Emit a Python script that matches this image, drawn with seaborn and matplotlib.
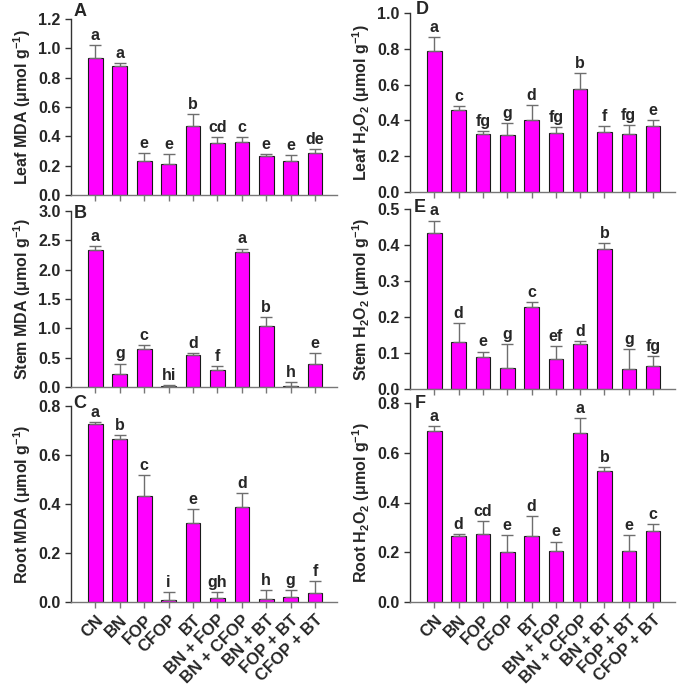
import numpy as np
import pandas as pd
import matplotlib
matplotlib.use("Agg")
import matplotlib.pyplot as plt
import seaborn as sns

treatments = ["CN", "BN", "FOP", "CFOP", "BT", "BN + FOP", "BN + CFOP",
              "BN + BT", "FOP + BT", "CFOP + BT"]

leaf_mda = [0.932, 0.877, 0.232, 0.213, 0.468, 0.357, 0.363, 0.264, 0.230, 0.284]
leaf_mda_err = [0.088, 0.023, 0.056, 0.069, 0.086, 0.038, 0.030, 0.016, 0.043, 0.027]
leaf_mda_let = ["a", "a", "e", "e", "b", "cd", "c", "e", "e", "de"]

stem_mda = [2.33, 0.22, 0.64, 0.02, 0.545, 0.284, 2.295, 1.04, 0.02, 0.40]
stem_mda_err = [0.08, 0.18, 0.07, 0.01, 0.04, 0.066, 0.065, 0.15, 0.07, 0.175]
stem_mda_let = ["a", "g", "c", "hi", "d", "f", "a", "b", "h", "e"]

root_mda = [0.727, 0.664, 0.434, 0.008, 0.324, 0.016, 0.389, 0.014, 0.019, 0.037]
root_mda_err = [0.009, 0.018, 0.083, 0.034, 0.057, 0.026, 0.056, 0.036, 0.029, 0.049]
root_mda_let = ["a", "b", "c", "i", "e", "gh", "d", "h", "g", "f"]

leaf_h2o2 = [0.785, 0.456, 0.326, 0.318, 0.400, 0.327, 0.575, 0.335, 0.324, 0.370]
leaf_h2o2_err = [0.081, 0.022, 0.013, 0.067, 0.084, 0.036, 0.090, 0.032, 0.048, 0.030]
leaf_h2o2_let = ["a", "c", "fg", "g", "d", "fg", "b", "f", "fg", "e"]

stem_h2o2 = [0.434, 0.131, 0.089, 0.059, 0.227, 0.082, 0.126, 0.389, 0.055, 0.065]
stem_h2o2_err = [0.034, 0.053, 0.015, 0.065, 0.014, 0.038, 0.008, 0.016, 0.055, 0.027]
stem_h2o2_let = ["a", "d", "e", "g", "c", "ef", "d", "b", "g", "fg"]

root_h2o2 = [0.687, 0.266, 0.274, 0.203, 0.267, 0.207, 0.678, 0.526, 0.207, 0.287]
root_h2o2_err = [0.019, 0.009, 0.053, 0.067, 0.078, 0.036, 0.063, 0.015, 0.063, 0.028]
root_h2o2_let = ["a", "d", "cd", "e", "d", "e", "a", "b", "e", "c"]

sns.set_style("ticks")
plt.rcParams["font.family"] = ["Liberation Sans", "DejaVu Sans"]
plt.rcParams["font.weight"] = "bold"
plt.rcParams["mathtext.fontset"] = "custom"
plt.rcParams["mathtext.rm"] = "Liberation Sans:bold"
plt.rcParams["mathtext.it"] = "Liberation Sans:bold"
plt.rcParams["mathtext.bf"] = "Liberation Sans:bold"
plt.rcParams["mathtext.default"] = "rm"

W, H = 677, 685
fig = plt.figure(figsize=(W / 100, H / 100), dpi=100)

def rect(x0, x1, ytop, ybot):
    return [x0 / W, 1 - ybot / H, (x1 - x0) / W, (ybot - ytop) / H]

panels = [
    ("A", leaf_mda, leaf_mda_err, leaf_mda_let, "Leaf MDA (μmol g$^{-1}$)", 1.2, 0.2,
     rect(71, 337, 19, 195), False, (80, 11)),
    ("B", stem_mda, stem_mda_err, stem_mda_let, "Stem MDA (μmol g$^{-1}$)", 3.0, 0.5,
     rect(71, 337, 211, 387), False, (80, 213)),
    ("C", root_mda, root_mda_err, root_mda_let, "Root MDA (μmol g$^{-1}$)", 0.8, 0.2,
     rect(71, 337, 406, 602), True, (80, 404)),
    ("D", leaf_h2o2, leaf_h2o2_err, leaf_h2o2_let, "Leaf H$_2$O$_2$ (μmol g$^{-1}$)", 1.0, 0.2,
     rect(410, 675, 13, 192), False, (422, 10)),
    ("E", stem_h2o2, stem_h2o2_err, stem_h2o2_let, "Stem H$_2$O$_2$ (μmol g$^{-1}$)", 0.5, 0.1,
     rect(410, 675, 209, 389), False, (420, 208)),
    ("F", root_h2o2, root_h2o2_err, root_h2o2_let, "Root H$_2$O$_2$ (μmol g$^{-1}$)", 0.8, 0.2,
     rect(410, 675, 403, 602), True, (420, 403)),
]

for name, vals, errs, lets, ylab, ymax, step, r, bottom, lpos in panels:
    ax = fig.add_axes(r)
    df = pd.DataFrame({"treatment": treatments, "value": vals})
    sns.barplot(data=df, x="treatment", y="value", order=treatments, color="#FF00FF",
                saturation=1, width=0.6, edgecolor="#1a1a1a", linewidth=0.8, ax=ax)
    xs = np.arange(len(treatments))
    ax.errorbar(xs, vals, yerr=[np.zeros(len(vals)), errs], fmt="none",
                ecolor="#6e6e6e", elinewidth=1.0, capsize=4, capthick=1.0, zorder=1)
    for x, v, e, t in zip(xs, vals, errs, lets):
        ax.annotate(t, (x, v + e), xytext=(0, 1.5), textcoords="offset points",
                    ha="center", va="bottom", fontsize=11.5, fontweight="bold")
    ax.set_ylim(0, ymax)
    ax.set_yticks(np.round(np.arange(0, ymax + step / 2, step), 2))
    ax.yaxis.set_major_formatter(matplotlib.ticker.FormatStrFormatter("%.1f"))
    ax.set_xlim(-1.0, 9.9)
    ax.set_xlabel("")
    ax.set_ylabel(ylab, fontsize=11.5, fontweight="bold", labelpad=4)
    for s in ["top", "right"]:
        ax.spines[s].set_visible(False)
    ax.spines["left"].set_color("#333333")
    ax.spines["bottom"].set_color("#777777")
    ax.spines["left"].set_linewidth(1.0)
    ax.spines["bottom"].set_linewidth(1.0)
    ax.tick_params(axis="y", labelsize=11.5, direction="out", length=4, width=1.0, color="#333333")
    ax.tick_params(axis="x", direction="out", length=4, width=1.0, color="#777777")
    for lab in ax.get_yticklabels():
        lab.set_fontweight("bold")
    ax.set_xticks(xs)
    if bottom:
        ax.set_xticklabels(treatments, rotation=45, ha="right", rotation_mode="anchor",
                           fontsize=12, fontweight="bold")
    else:
        ax.set_xticklabels([])
    fig.text(lpos[0] / W, 1 - lpos[1] / H, name, fontsize=13, fontweight="bold",
             ha="center", va="center")

fig.savefig("out.png", dpi=100)
